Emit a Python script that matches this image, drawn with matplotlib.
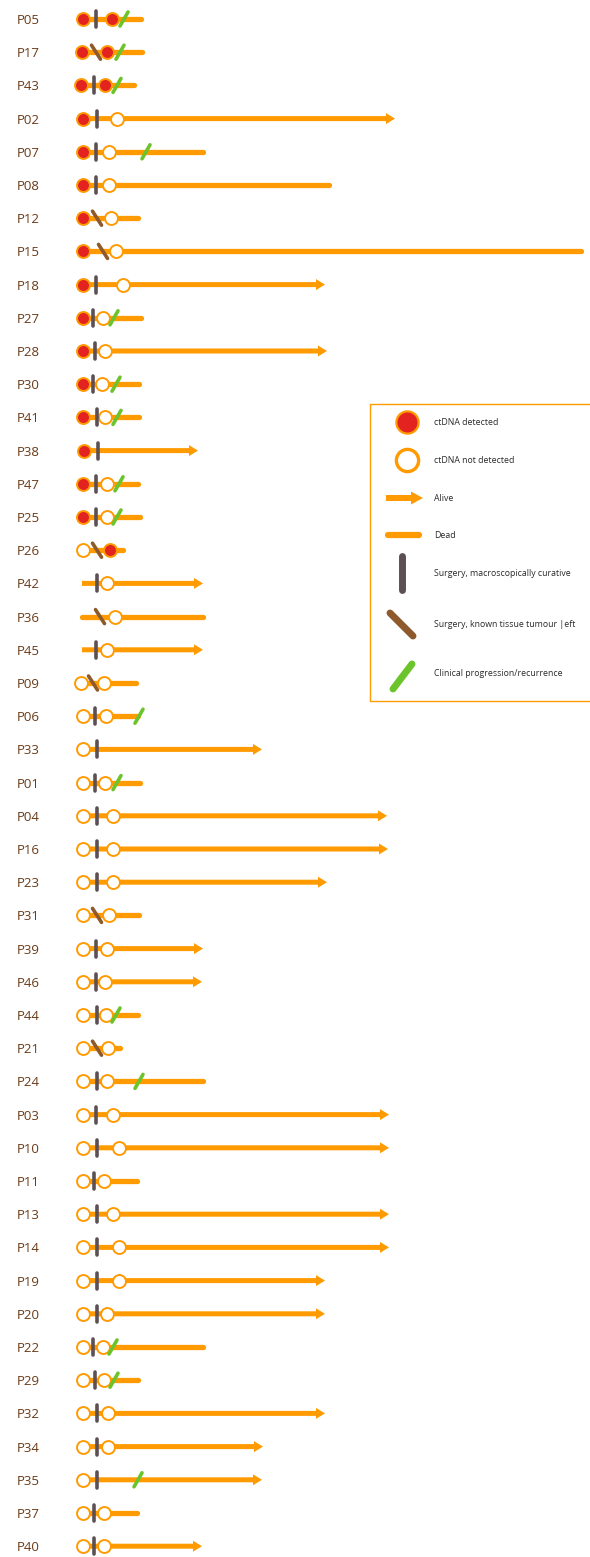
import numpy as np
import matplotlib.pyplot as plt
from matplotlib.patches import Rectangle

plt.rcParams['font.family'] = ['Open Sans', 'DejaVu Sans']

nan = np.nan

# patient rows, top to bottom
patients = ['P05', 'P17', 'P43', 'P02', 'P07', 'P08', 'P12', 'P15', 'P18', 'P27',
            'P28', 'P30', 'P41', 'P38', 'P47', 'P25', 'P26', 'P42', 'P36', 'P45',
            'P09', 'P06', 'P33', 'P01', 'P04', 'P16', 'P23', 'P31', 'P39', 'P46',
            'P44', 'P21', 'P24', 'P03', 'P10', 'P11', 'P13', 'P14', 'P19', 'P20',
            'P22', 'P29', 'P32', 'P34', 'P35', 'P37', 'P40']

# first sample (nan = no sample), 1 = ctDNA detected
first_sample = [83, 82, 81, 83, 83, 83, 83, 83, 83, 83, 83, 83, 83, 84, 83, 83, 83, nan, nan, nan,
                81, 83, 83, 83, 83, 83, 83, 83, 83, 83, 83, 83, 83, 83, 83, 83, 83, 83, 83, 83,
                83, 83, 83, 83, 83, 83, 83]
first_detected = [1] * 16 + [0] * 31

# surgery time and kind (c = macroscopically curative, l = tumour left)
surgery = [96, 96, 94, 97, 96, 96, 97, 103, 96, 93, 95, 93, 97, 98, 96, 96, 97, 97, 100, 96,
           93, 95, 97, 95, 97, 97, 97, 97, 96, 96, 97, 97, 97, 96, 97, 94, 97, 97, 97, 97,
           93, 95, 97, 97, 97, 94, 94]
surgery_kind = ['c', 'l', 'c', 'c', 'c', 'c', 'l', 'l', 'c', 'c',
                'c', 'c', 'c', 'c', 'c', 'c', 'l', 'c', 'l', 'c',
                'l', 'c', 'c', 'c', 'c', 'c', 'c', 'l', 'c', 'c',
                'c', 'l', 'c', 'c', 'c', 'c', 'c', 'c', 'c', 'c',
                'c', 'c', 'c', 'c', 'c', 'c', 'c']

# second sample
second_sample = [112, 107, 105, 117, 109, 109, 111, 116, 123, 103, 105, 102, 105, nan, 107, 107,
                 110, 107, 115, 107, 104, 106, nan, 105, 113, 113, 113, 109, 107, 105, 106, 108,
                 107, 113, 119, 104, 113, 119, 119, 107, 103, 104, 108, 108, nan, 104, 104]
second_detected = [1, 1, 1] + [0] * 13 + [1] + [0] * 30

# clinical progression / recurrence
progression = [124, 120, 117, nan, 146, nan, nan, nan, nan, 114, nan, 116, 117, nan, 119, 117,
               nan, nan, nan, nan, nan, 139, nan, 117, nan, nan, nan, nan, nan, nan, 116, nan,
               139, nan, nan, nan, nan, nan, nan, nan, 113, 114, nan, nan, 138, nan, nan]

# end of follow-up, alive (arrow) or dead
follow_end = [143, 144, 136, 395, 205, 331, 140, 583, 325, 143, 327, 141, 141, 198, 140, 142,
              125, 203, 205, 203, 138, 140, 262, 142, 387, 388, 327, 141, 203, 202, 140, 122,
              205, 389, 389, 139, 389, 389, 325, 325, 205, 140, 325, 263, 262, 139, 202]
alive = [0, 0, 0, 1, 0, 0, 0, 0, 1, 0, 1, 0, 0, 1, 0, 0, 0, 1, 0, 1, 0, 0, 1, 0, 1, 1, 1, 0,
         1, 1, 0, 0, 0, 1, 1, 0, 1, 1, 1, 1, 0, 0, 1, 1, 1, 0, 1]

legend_labels = ['ctDNA detected', 'ctDNA not detected', 'Alive', 'Dead',
                 'Surgery, macroscopically curative', 'Surgery, known tissue tumour |eft',
                 'Clinical progression/recurrence']

ORANGE = '#ff9a00'
RED = '#e2231f'
BAR = '#5c5054'
BROWN = '#8e5a2c'
GREEN = '#6cc42c'
LABEL = '#6b3a17'

fig = plt.figure(figsize=(5.90, 15.57), dpi=100)
ax = fig.add_axes([0, 0, 1, 1])
ax.set_xlim(0, 590)
ax.set_ylim(1557, 0)
ax.axis('off')

row_y = 19 + 33.2 * np.arange(len(patients))


def circle(x, y, detected, size=9.3, mew=1.4):
    if detected:
        ax.plot(x, y, 'o', ms=size, mfc=RED, mec=ORANGE, mew=mew, zorder=4)
    else:
        ax.plot(x, y, 'o', ms=size, mfc='white', mec=ORANGE, mew=mew, zorder=4)


for i, p in enumerate(patients):
    y = row_y[i]
    ax.text(17, y + 1.5, p, ha='left', va='center', fontsize=9.5, color=LABEL)

    start = first_sample[i] if not np.isnan(first_sample[i]) else 82
    end = follow_end[i]
    if alive[i]:
        ax.arrow(start, y, end - start, 0, width=5, head_width=11, head_length=9,
                 length_includes_head=True, color=ORANGE, lw=0, zorder=1)
    else:
        ax.plot([start, end - 2], [y, y], color=ORANGE, lw=3.8, solid_capstyle='round', zorder=1)

    if not np.isnan(first_sample[i]):
        circle(first_sample[i], y, first_detected[i])
    if not np.isnan(second_sample[i]):
        circle(second_sample[i], y, second_detected[i])

    s = surgery[i]
    if surgery_kind[i] == 'c':
        ax.plot([s, s], [y - 8, y + 8], color=BAR, lw=2.6, solid_capstyle='round', zorder=5)
    else:
        ax.plot([s - 4.5, s + 4.5], [y - 7, y + 7], color=BROWN, lw=2.6,
                solid_capstyle='round', zorder=5)

    if not np.isnan(progression[i]):
        g = progression[i]
        ax.plot([g - 4, g + 4], [y + 7, y - 7], color=GREEN, lw=2.6,
                solid_capstyle='round', zorder=6)

# legend box
ax.add_patch(Rectangle((370, 404), 230, 297, fill=False, ec=ORANGE, lw=1.0, zorder=2))
leg_y = [422, 460, 498, 535, 573, 624, 673]
for ly, lab in zip(leg_y, legend_labels):
    ax.text(434, ly, lab, ha='left', va='center', fontsize=6.3, color='#2a2a2a')

circle(407, leg_y[0], 1, size=16, mew=1.6)
circle(407, leg_y[1], 0, size=16, mew=2.4)
ax.arrow(386, leg_y[2], 37, 0, width=6, head_width=13, head_length=12,
         length_includes_head=True, color=ORANGE, lw=0)
ax.plot([388, 419], [leg_y[3], leg_y[3]], color=ORANGE, lw=4.5, solid_capstyle='round')
ax.plot([402, 402], [556, 590], color=BAR, lw=5, solid_capstyle='round')
ax.plot([390, 413], [613, 636], color=BROWN, lw=5, solid_capstyle='round')
ax.plot([393, 412], [689, 664], color=GREEN, lw=5, solid_capstyle='round')

fig.savefig('out.png', dpi=100)
